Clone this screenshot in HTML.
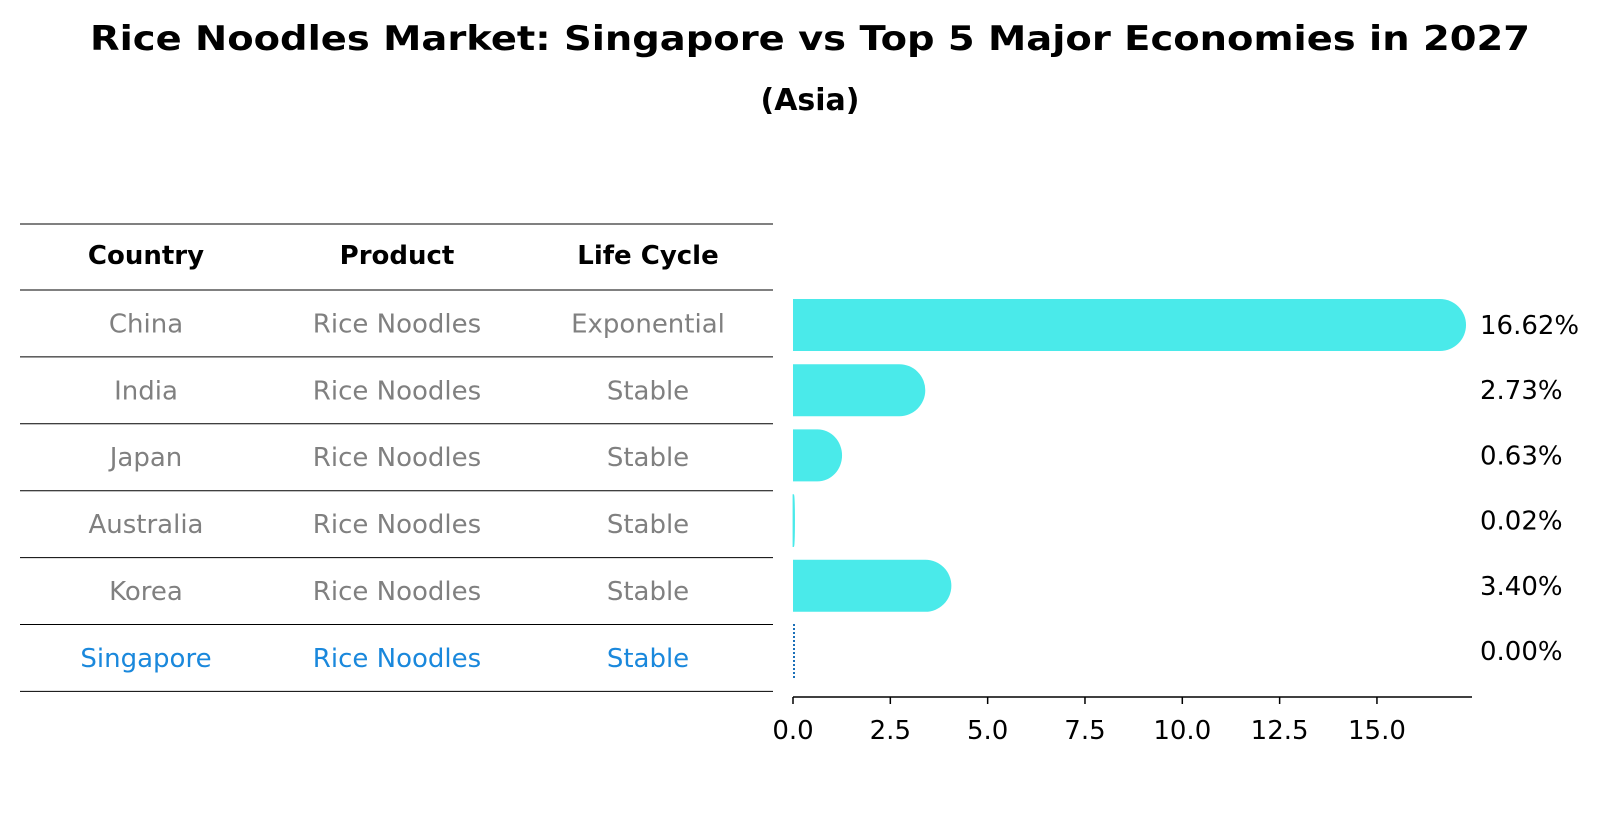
<!DOCTYPE html>
<html><head><meta charset="utf-8"><style>
html,body{margin:0;padding:0;background:#fff;}
svg{display:block;font-family:"DejaVu Sans","Liberation Sans",sans-serif;}
</style></head><body>
<svg id="chart" width="1604" height="823" viewBox="0 0 1604 823" xmlns="http://www.w3.org/2000/svg">
<text x="810" y="50" text-anchor="middle" font-size="34" font-weight="bold" textLength="1440" lengthAdjust="spacingAndGlyphs">Rice Noodles Market: Singapore vs Top 5 Major Economies in 2027</text>
<text x="810" y="110" text-anchor="middle" font-size="30" font-weight="bold">(Asia)</text>
<g id="table"></g>
<g id="bars"></g>
</svg>
<script>
const countries = ["China","India","Japan","Australia","Korea","Singapore"];
const products = ["Rice Noodles","Rice Noodles","Rice Noodles","Rice Noodles","Rice Noodles","Rice Noodles"];
const lifeCycles = ["Exponential","Stable","Stable","Stable","Stable","Stable"];
const values = [16.62,2.73,0.63,0.02,3.40,0.00];
const valueLabels = ["16.62%","2.73%","0.63%","0.02%","3.40%","0.00%"];
const tickValues = [0,2.5,5,7.5,10,12.5,15];
const tickLabels = ["0.0","2.5","5.0","7.5","10.0","12.5","15.0"];
const highlight = "Singapore";

const NS="http://www.w3.org/2000/svg";
function mk(tag,attrs,parent,text){const e=document.createElementNS(NS,tag);for(const k in attrs)e.setAttribute(k,attrs[k]);if(text!==undefined)e.textContent=text;parent.appendChild(e);return e;}
const xScale=v=>793+v*38.93;
const rowTop=i=>290+i*66.9;
const rowCenter=i=>rowTop(i)+33.4;
const barCenter=i=>325+i*65.2;
const FS=26;

const table=document.getElementById('table');
const colX=[146,397,648];
const lineAt=(y,name)=>{const l=mk('line',{x1:20,x2:773,y1:y,y2:y,stroke:'#000','stroke-width':1},table);};
lineAt(224,'table-top-rule');
const headers=["Country","Product","Life Cycle"];
headers.forEach((h,j)=>{const t=mk('text',{x:colX[j],y:264,'text-anchor':'middle','font-size':FS,'font-weight':'bold'},table,h);

});
lineAt(290,'header-rule');
countries.forEach((c,i)=>{
  const col=c===highlight?'#1a88dc':'#808080';
  [c,products[i],lifeCycles[i]].forEach((v,j)=>{
    const t=mk('text',{x:colX[j],y:rowCenter(i)+9,'text-anchor':'middle','font-size':FS,fill:col},table,v);
    
    
  });
  lineAt(rowTop(i+1),'row-rule-'+c.toLowerCase());
});

const bars=document.getElementById('bars');
const h=52;
values.forEach((v,i)=>{
  const cy=barCenter(i),x0=xScale(0),x1=xScale(v);
  const w=x1-x0;
  if(countries[i]===highlight){
    const l=mk('line',{x1:x0+1,x2:x0+1,y1:cy-27,y2:cy+27,stroke:'#1a6fb8','stroke-width':2,'stroke-dasharray':'2,2'},bars);
    
    
  } else {
    const r=Math.min(h/2,w);
    const top=cy-h/2,bot=cy+h/2;
    const d=`M${x0},${top} L${x1},${top} A${r},${h/2} 0 0 1 ${x1},${bot} L${x0},${bot} Z`;
    const p=mk('path',{d:d,fill:'#4aeaea',stroke:w<2?'#4aeaea':'none','stroke-width':0.8},bars);
    
    
  }
  const t=mk('text',{x:1480,y:cy+9,'font-size':FS},bars,valueLabels[i]);
  
  
});
const ax=mk('line',{x1:793,x2:1472,y1:697,y2:697,stroke:'#000','stroke-width':1.5},bars);


tickValues.forEach((v,k)=>{
  const x=xScale(v);
  const tk=mk('line',{x1:x,x2:x,y1:697,y2:704,stroke:'#000','stroke-width':1.5},bars);
  
  
  const t=mk('text',{x:x,y:739,'text-anchor':'middle','font-size':FS},bars,tickLabels[k]);
  
  
});
</script>
</body></html>
